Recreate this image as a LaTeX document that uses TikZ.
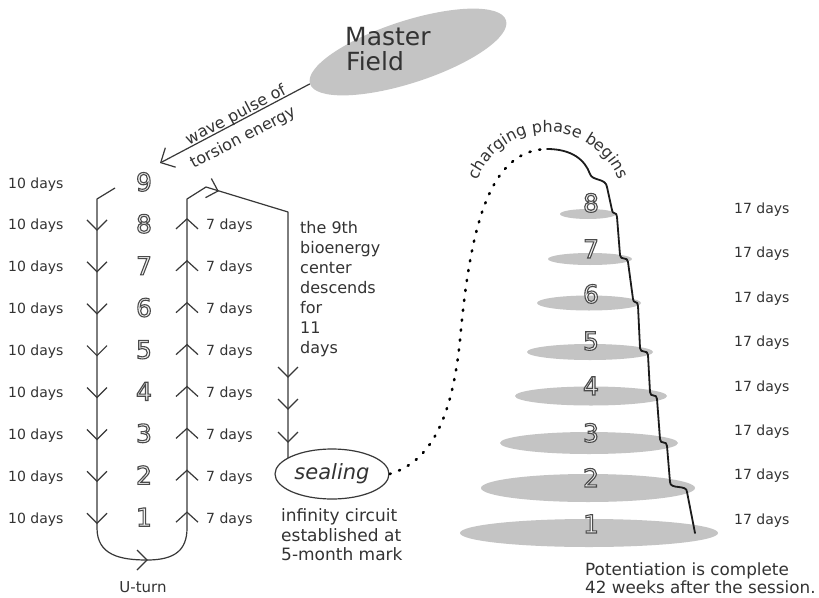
\documentclass[tikz,border=0pt]{standalone}
\usepackage{fontspec}
\setmainfont{DejaVu Sans}
\usetikzlibrary{arrows.meta,decorations.text,shapes.geometric,calc}
\definecolor{ink}{HTML}{333333}
\definecolor{lineink}{HTML}{383838}
\definecolor{fillgray}{HTML}{C4C4C4}
\definecolor{digitfill}{HTML}{F2F2F2}
\definecolor{wave}{HTML}{1C1C1C}
\newcommand\outdigit[1]{\textcolor{digitfill}{\special{pdf:literal direct q 2 Tr 1.1 w 0.29 0.29 0.29 RG}#1\special{pdf:literal direct Q}}}
\tikzset{
  ln/.style={draw=lineink, line width=1.2pt},
  lbl/.style={text=ink, inner sep=0pt, font=\fontsize{14}{16}\selectfont},
  midtext/.style={text=ink, inner sep=0pt, align=left, anchor=north west},
  dig/.style={inner sep=0pt, anchor=base, font=\fontsize{25}{25}\selectfont},
  disc/.style={ellipse, fill=fillgray, inner sep=0pt},
  downv/.pic={\draw[ln] (-10,-10) -- (0,0) -- (10,-10);},
  upv/.pic={\draw[ln] (-11,10) -- (0,0) -- (11,10);},
  rightv/.pic={\draw[ln] (-10,-10) -- (0,0) -- (-10,10);},
}
\begin{document}
\begin{tikzpicture}[x=1pt,y=-1pt]
\fill[white] (0,0) rectangle (819,597);
\useasboundingbox (0,0) rectangle (819,597);

% Master Field
\node[ellipse, fill=fillgray, minimum width=206pt, minimum height=62pt, inner sep=0pt, rotate=18] (mf) at (408,52) {};
\node[text=ink, inner sep=0pt, anchor=base west, font=\fontsize{25}{25}\selectfont] (mft1) at (345,45) {Master};
\node[text=ink, inner sep=0pt, anchor=base west, font=\fontsize{25}{25}\selectfont] (mft2) at (346,70) {Field};

% wave pulse arrow
\coordinate (wt) at (160,163);
\draw[ln, -{Straight Barb[length=11pt,width=22pt]}] (mf.west) -- (wt);
\node[text=ink, inner sep=0pt, rotate=27.6, font=\fontsize{16}{18}\selectfont] (wp1) at (236,115.5) {wave pulse of};
\node[text=ink, inner sep=0pt, rotate=27.6, font=\fontsize{16}{18}\selectfont] (wp2) at (243,138) {torsion energy};

% sealing
\node[ellipse, draw=lineink, line width=1.2pt, fill=white, minimum width=114pt, minimum height=50pt, inner sep=0pt, text=ink, font=\fontsize{21}{24}\selectfont\itshape] (seal) at (332,474) {sealing};

% main circuit path
\coordinate (lt) at (115,188);
\coordinate (lt2) at (97,199);
\coordinate (lb) at (97,528);
\coordinate (ub) at (147,560);
\coordinate (rb) at (187,528);
\coordinate (rt) at (187,199);
\coordinate (rt2) at (206,187);
\coordinate (mtop) at (288,212);
\draw[ln, line join=round] (lt) -- (lt2) -- (lb) .. controls (97,555) and (120,560) .. (ub)
  .. controls (175,560) and (187,550) .. (rb) -- (rt) -- (rt2) -- (mtop) -- (mtop |- seal.160);
\pic[rotate=-17] at (218,191) {rightv};
\pic at (ub) {rightv};
\foreach \y in {377,409,442} \pic at (288,\y) {downv};

% left rows
\foreach \k/\b in {9/188,8/229.9,7/271.8,6/313.7,5/355.6,4/397.5,3/439.4,2/481.3,1/523.2}{
  \node[lbl, anchor=base west] (ten\k) at (8,\b) {10 days};
  \node[dig] (ld\k) at (144,\b+3) {\outdigit{\k}};
}
\foreach \k/\b in {8/229.9,7/271.8,6/313.7,5/355.6,4/397.5,3/439.4,2/481.3,1/523.2}{
  \node[lbl, anchor=base west] (sev\k) at (206,\b) {7 days};
  \pic at (97,\b) {downv};
  \pic at (187,\b-11) {upv};
}
\node[text=ink, inner sep=0pt, anchor=base, font=\fontsize{15}{17}\selectfont] (ut) at (143,592) {U-turn};

% middle texts
\node[midtext, font=\fontsize{16}{20}\selectfont] (desc) at (300,220.8) {the 9th\\bioenergy\\center\\descends\\for\\11\\days};
\node[midtext, font=\fontsize{17}{19.5}\selectfont] (inf) at (281,508.8) {infinity circuit\\established at\\5-month mark};

% discs
\foreach \k/\x/\y/\w/\h in {8/588/214/56/10, 7/590/259/84/12, 6/589/303/104/15, 5/590/352/126/16, 4/591/396/152/19, 3/589/443/178/22, 2/588/488/214/28, 1/589/533/258/28}
  \node[disc, minimum width=\w pt, minimum height=\h pt] (d\k) at (\x,\y) {};
\foreach \k/\b in {8/212,7/258,6/303,5/350,4/395,3/442,2/487,1/533}
  \node[dig] (rd\k) at (591,\b) {\outdigit{\k}};
\foreach \k/\b in {8/213,7/257,6/302,5/346,4/391,3/435,2/479,1/524}
  \node[lbl, anchor=base west] (sd\k) at (734,\b) {17 days};

% dotted and wavy line
\coordinate (ws) at (547,149);
\coordinate (we) at (695,533);
\draw[black, line width=2.6pt, dash pattern=on 1.2pt off 8.8pt, line cap=round] (seal.east) .. controls (430,462) and (452,420) .. (460,340) .. controls (470,230) and (488,150) .. (ws);
\draw[draw=wave, line width=1.8pt, line cap=round, line join=round] (ws) .. controls (572,149) and (585,160) .. (590,174) .. controls (592,181) and (606,178) .. (607,187)
 -- (612,210) .. controls (612,215) and (617,211) .. (617,217)
 -- (620,255) .. controls (620,261) and (628,256) .. (628,262)
 -- (633,299) .. controls (633,304) and (638,300) .. (638,306)
 -- (640,348) .. controls (640,354) and (648,349) .. (648,355)
 -- (650,392) .. controls (650,398) and (657,393) .. (657,399)
 -- (660,439) .. controls (660,445) and (667,440) .. (667,446)
 -- (670,482) .. controls (670,490) and (687,484) .. (687,492)
 -- (we);

% charging phase text on arc
\coordinate (arcc) at (548,208);
\path[postaction={decorate}, decoration={text along path, text align=center, text={|\fontsize{16}{18}\selectfont\color{ink}|charging phase begins}}] ($(arcc)+(-170:76)$) arc[start angle=-170, end angle=-10, radius=76];

% potentiation
\node[midtext, font=\fontsize{16.8}{18.4}\selectfont] (pot) at (585,562.2) {Potentiation is complete\\42 weeks after the session.};
\end{tikzpicture}
\end{document}
